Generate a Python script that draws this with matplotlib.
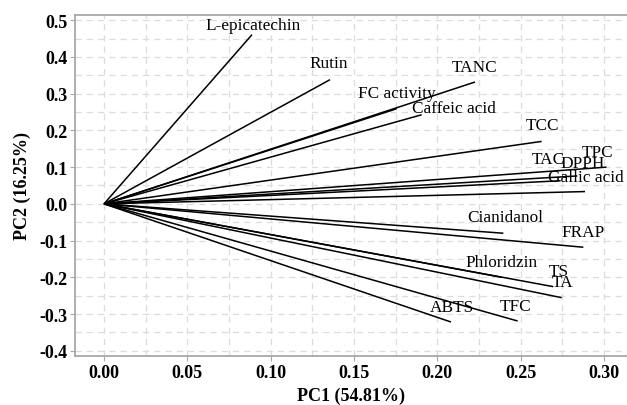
import numpy as np
import matplotlib.pyplot as plt
from matplotlib.ticker import MultipleLocator

# loadings (PC1, PC2)
names = ['L-epicatechin', 'Rutin', 'TANC', 'FC activity', 'Caffeic acid',
         'TCC', 'TPC', 'TAC', 'DPPH', 'Gallic acid', 'Cianidanol', 'FRAP',
         'Phloridzin', 'TS', 'TA', 'ABTS', 'TFC']
pc1 = [0.0888, 0.1356, 0.2226, 0.1756, 0.1906,
       0.2626, 0.3015, 0.2740, 0.2840, 0.2886, 0.2396, 0.2876,
       0.2386, 0.2696, 0.2746, 0.2082, 0.2482]
pc2 = [0.4605, 0.3380, 0.3316, 0.2589, 0.2425,
       0.1700, 0.1000, 0.0630, 0.0760, 0.0335, -0.0799, -0.1180,
       -0.1998, -0.2253, -0.2553, -0.3215, -0.3188]
# where the labels sit (repelled text positions)
lab_x = [0.0894, 0.1350, 0.2226, 0.1758, 0.2097,
         0.2634, 0.2964, 0.2664, 0.2874, 0.2892, 0.2406, 0.2876,
         0.2388, 0.2727, 0.2754, 0.2086, 0.2472]
lab_y = [0.488, 0.384, 0.373, 0.302, 0.262,
         0.215, 0.1417, 0.1226, 0.1117, 0.0736, -0.0346, -0.0771,
         -0.159, -0.1826, -0.2117, -0.280, -0.277]

plt.rcParams['font.family'] = ['Liberation Serif', 'DejaVu Serif']

fig = plt.figure(figsize=(6.27, 4.06), dpi=100)
ax = fig.add_axes([0.1196, 0.1207, 0.8804, 0.8399])

for i in range(len(names)):
    ax.plot([0, pc1[i]], [0, pc2[i]], color='black', lw=1.1, solid_capstyle='butt')
    ax.text(lab_x[i], lab_y[i], names[i], fontsize=12.4, ha='center', va='center')

ax.set_xlim(-0.0174, 0.3138)
ax.set_ylim(-0.414, 0.514)
ax.xaxis.set_major_locator(MultipleLocator(0.05))
ax.xaxis.set_minor_locator(MultipleLocator(0.025))
ax.yaxis.set_major_locator(MultipleLocator(0.1))
ax.yaxis.set_minor_locator(MultipleLocator(0.05))
ax.xaxis.set_major_formatter(lambda v, p: '%.2f' % v)
ax.yaxis.set_major_formatter(lambda v, p: '%.1f' % v)

ax.grid(which='both', color='#dcdcdc', linestyle=(0, (5, 4)), lw=0.9)
ax.set_axisbelow(True)
for s in ax.spines.values():
    s.set_color('#a8a8a8')
    s.set_linewidth(1.3)
ax.spines['right'].set_visible(False)
ax.tick_params(which='major', length=3.5, color='#a8a8a8', pad=2)
ax.tick_params(which='minor', length=0)
for t in ax.get_xticklabels() + ax.get_yticklabels():
    t.set_fontweight('bold')
    t.set_fontsize(13)

ax.set_xlabel('PC1 (54.81%)', fontsize=13, fontweight='bold', labelpad=4)
ax.set_ylabel('PC2 (16.25%)', fontsize=13, fontweight='bold', labelpad=6)

plt.savefig('out.png', dpi=100)
